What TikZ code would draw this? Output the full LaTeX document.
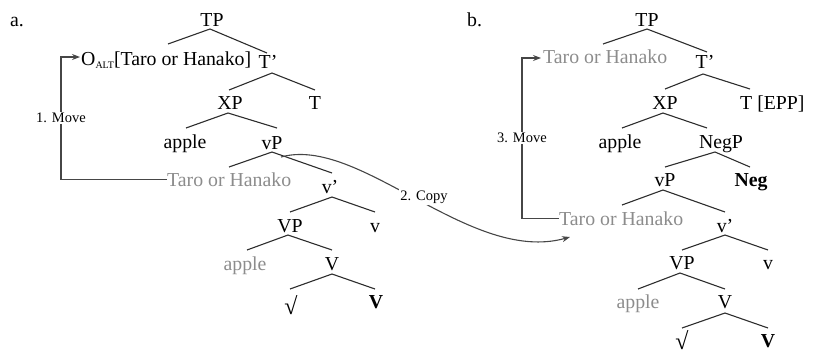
\documentclass[tikz,border=0pt]{standalone}
\usepackage{fontspec}
\setmainfont{Liberation Serif}
\usetikzlibrary{arrows.meta}
\definecolor{trace}{RGB}{140,140,140}
\definecolor{branchcol}{RGB}{45,45,45}
\definecolor{movecol}{RGB}{70,70,70}
\tikzset{
  lab/.style={inner sep=0pt, anchor=base, font=\fontsize{19.8}{23}\selectfont},
  labw/.style={lab, anchor=base west},
  copyg/.style={text=trace},
  rootsym/.style={lab, font=\fontsize{24}{28}\selectfont},
  branch/.style={draw=branchcol, line width=1.1pt},
  mv/.style={draw=movecol, line width=1.1pt, -{Stealth[length=8pt,width=6pt]}},
  steplabel/.style={fill=white, inner sep=1.5pt, font=\fontsize{14.5}{16}\selectfont}
}
\begin{document}
\begin{tikzpicture}[x=1pt, y=-1pt]
\useasboundingbox (0,0) rectangle (813,354);

% ---------- tree (a) ----------
\node[labw] (lbla) at (10,26) {a.};
\node[lab] (TPa) at (212,26) {TP};
\node[labw] (Oa) at (81,65) {O\raisebox{-3pt}{\fontsize{10}{10}\selectfont ALT}[Taro or Hanako]};
\node[lab] (Tpa) at (268,68) {T’};
\node[lab] (XPa) at (230,109) {XP};
\node[lab] (Ta) at (315,109) {T};
\node[lab] (applea) at (185,148) {apple};
\node[lab] (vPa) at (272,149) {vP};
\node[labw, copyg] (Taroa) at (167,186) {Taro or Hanako};
\node[lab] (vpra) at (330,193) {v’};
\node[lab] (VPa) at (290,232) {VP};
\node[lab] (va) at (375,232) {v};
\node[lab, copyg] (applega) at (245,270) {apple};
\node[lab] (Va) at (332,270) {V};
\node[rootsym] (roota) at (291,314) {√};
\node[lab] (Vba) at (376,308) {\bfseries V};

\draw[branch] (168,44) -- (210,29) -- (267,53);
\draw[branch] (229,90) -- (272,73) -- (315,90);
\draw[branch] (186,128) -- (228,113) -- (277,128);
\draw[branch] (229,167) -- (272,152) -- (332,173);
\draw[branch] (290,212) -- (332,197) -- (375,212);
\draw[branch] (247,250) -- (288,235) -- (332,250);
\draw[branch] (290,289) -- (332,274) -- (375,289);

% ---------- tree (b) ----------
\node[labw] (lblb) at (467,26) {b.};
\node[lab] (TPb) at (647,26) {TP};
\node[labw, copyg] (Tarob1) at (543,63) {Taro or Hanako};
\node[lab] (Tpb) at (705,68) {T’};
\node[lab] (XPb) at (665,109) {XP};
\node[labw] (TEPP) at (740,109) {T [EPP]};
\node[lab] (appleb) at (620,148) {apple};
\node[lab] (NegP) at (721,148) {NegP};
\node[lab] (vPb) at (665,186) {vP};
\node[lab] (Neg) at (751,186) {\bfseries Neg};
\node[labw, copyg] (Tarob2) at (559,225) {Taro or Hanako};
\node[lab] (vprb) at (725,232) {v’};
\node[lab] (VPb) at (682,269) {VP};
\node[lab] (vb) at (768,269) {v};
\node[lab, copyg] (applegb) at (638,308) {apple};
\node[lab] (Vb) at (725,308) {V};
\node[rootsym] (rootb) at (682,349) {√};
\node[lab] (Vbb) at (768,347) {\bfseries V};

\draw[branch] (603,44) -- (647,29) -- (707,52);
\draw[branch] (665,89) -- (703,74) -- (750,89);
\draw[branch] (622,128) -- (663,113) -- (707,128);
\draw[branch] (665,167) -- (715,152) -- (750,167);
\draw[branch] (622,205) -- (663,190) -- (725,212);
\draw[branch] (682,250) -- (725,235) -- (768,250);
\draw[branch] (638,289) -- (680,273) -- (725,289);
\draw[branch] (682,328) -- (725,313) -- (768,328);

% ---------- movement and copy arrows ----------
\coordinate (m1) at (61,57);
\draw[mv, shorten >=1pt] (Taroa.west) -| (m1) -- (Oa.west |- m1);
\node[steplabel] (mv1) at (61,118) {1. Move};

\coordinate (m3) at (522,58);
\draw[mv, shorten >=2pt] (Tarob2.west) -| (m3) -- (Tarob1.west |- m3);
\node[steplabel] (mv3) at (522,138) {3. Move};

\coordinate (cstart) at (281,157);
\coordinate (cend) at (570,237);
\draw[mv] (cstart) .. controls (360,135) and (470,265) .. (cend);
\node[steplabel] (cp) at (424,197) {2. Copy};
\end{tikzpicture}
\end{document}
